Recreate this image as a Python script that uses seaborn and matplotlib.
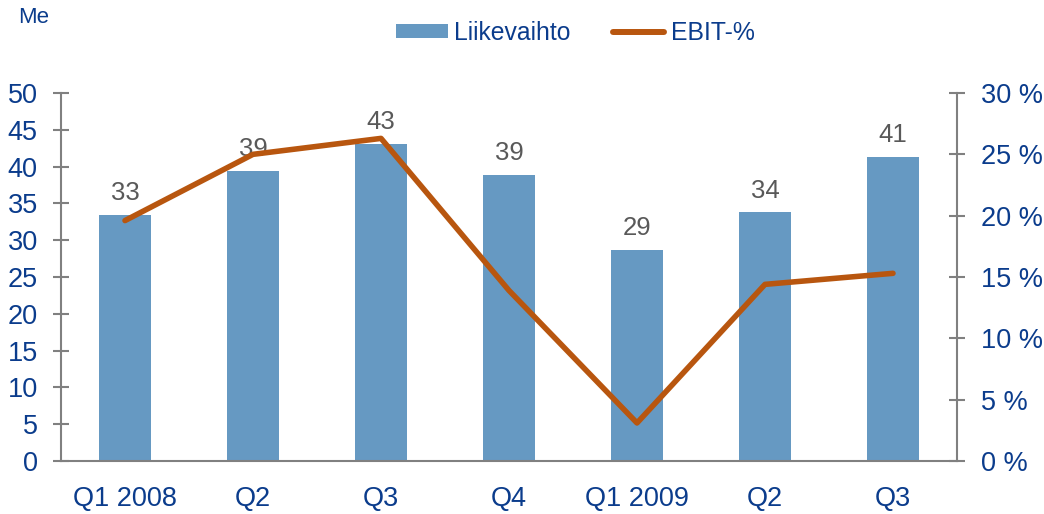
import numpy as np
import pandas as pd
import matplotlib
matplotlib.use("Agg")
import matplotlib.pyplot as plt
from matplotlib.lines import Line2D
from matplotlib.patches import Patch
import seaborn as sns

# data
quarters = ["Q1 2008", "Q2", "Q3", "Q4", "Q1 2009", "Q2", "Q3"]
liikevaihto = [33.4, 39.4, 43.1, 38.9, 28.7, 33.8, 41.3]   # Me
ebit_pct = [19.6, 25.0, 26.3, 13.9, 3.1, 14.4, 15.3]        # %

sns.set_style("white")
plt.rcParams["font.family"] = ["Liberation Sans", "DejaVu Sans"]

BAR = "#6699C2"
LINE = "#B8560F"
BLUE = "#0B3C8C"
GREY = "#808080"

df = pd.DataFrame({"pos": np.arange(len(quarters)), "quarter": quarters,
                   "sales": liikevaihto, "ebit": ebit_pct})

fig = plt.figure(figsize=(10.44, 5.14), dpi=100)
ax = fig.add_axes([61 / 1044, 53 / 514, 896 / 1044, 368 / 514])

sns.barplot(data=df, x="pos", y="sales", color=BAR, width=0.4,
            saturation=1, ax=ax, edgecolor="none")
ax.bar_label(ax.containers[0], fmt="%.0f", padding=7, fontsize=18.5,
             color="#595959")
ax.set_ylim(0, 50)
ax.set_xlim(-0.5, len(quarters) - 0.5)
ax.set_yticks(range(0, 51, 5))
ax.set_xlabel("")
ax.set_ylabel("")

ax2 = ax.twinx()
sns.lineplot(data=df, x="pos", y="ebit", color=LINE, linewidth=4.0, ax=ax2)
ax2.set_ylim(0, 30)
ax2.set_yticks(range(0, 31, 5))
ax2.set_yticklabels([f"{v} %" for v in range(0, 31, 5)])
ax2.set_ylabel("")
ax2.set_xlim(-0.5, len(quarters) - 0.5)

# x ticks at category boundaries, labels centred
ax.set_xticks(np.arange(-0.5, len(quarters), 1.0))
ax.set_xticklabels([])
ax.set_xticks(np.arange(len(quarters)), minor=True)
ax.set_xticklabels(quarters, minor=True)
ax.tick_params(axis="x", which="minor", length=0, pad=18, labelsize=19.5,
               labelcolor=BLUE)
ax.tick_params(axis="x", which="major", direction="inout", length=11.5,
               width=1.5, color=GREY)
ax.tick_params(axis="y", direction="inout", length=11.5, width=1.5,
               color=GREY, labelsize=19.5, labelcolor=BLUE, pad=11)
ax2.tick_params(axis="y", direction="inout", length=11.5, width=1.5,
                color=GREY, labelsize=19.5, labelcolor=BLUE, pad=11.5)

for a in (ax, ax2):
    a.spines["top"].set_visible(False)
    for s in ("left", "right", "bottom"):
        a.spines[s].set_color(GREY)
        a.spines[s].set_linewidth(1.5)
ax.spines["right"].set_visible(False)
ax2.spines["left"].set_visible(False)
ax2.spines["bottom"].set_visible(False)

fig.text(0.017, 0.966, "Me", fontsize=16, color=BLUE, va="center")

handles = [Patch(facecolor=BAR, edgecolor="none"),
           Line2D([0], [0], color=LINE, linewidth=4.3, solid_capstyle="round")]
leg = fig.legend(handles, ["Liikevaihto", "EBIT-%"], loc="center",
                 bbox_to_anchor=(0.551, 0.936), ncol=2, frameon=False,
                 fontsize=17.8, handlelength=2.1, handleheight=0.5,
                 columnspacing=1.7, handletextpad=0.25)
for t in leg.get_texts():
    t.set_color(BLUE)

fig.savefig("out.png", dpi=100)
